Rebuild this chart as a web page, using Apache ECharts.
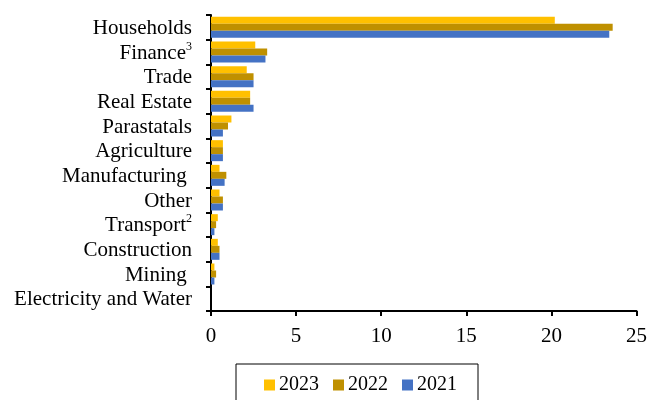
<!DOCTYPE html>
<html>
<head>
<meta charset="utf-8">
<style>
  html, body { margin: 0; padding: 0; background: #fff; }
  #chart { width: 650px; height: 400px; }
</style>
<script src="https://cdn.jsdelivr.net/npm/echarts@6/dist/echarts.min.js"></script>
</head>
<body>
<div id="chart"></div>
<script>
// Sectors, top to bottom (trailing "^n" marks a footnote superscript)
const sectors = [
  'Households', 'Finance^3', 'Trade', 'Real Estate', 'Parastatals', 'Agriculture',
  'Manufacturing ', 'Other', 'Transport^2', 'Construction', 'Mining ', 'Electricity and Water'
];
const values2023 = [20.2, 2.6, 2.1, 2.3, 1.2, 0.7, 0.5, 0.5, 0.4, 0.4, 0.2, 0.0];
const values2022 = [23.6, 3.3, 2.5, 2.3, 1.0, 0.7, 0.9, 0.7, 0.3, 0.5, 0.3, 0.0];
const values2021 = [23.4, 3.2, 2.5, 2.5, 0.7, 0.7, 0.8, 0.7, 0.2, 0.5, 0.2, 0.0];
const xTicks = [0, 5, 10, 15, 20, 25];

const FONT = 'Liberation Serif';
const chart = echarts.init(document.getElementById('chart'), null, { renderer: 'canvas' });

function sectorLabel(name) {
  const i = name.indexOf('^');
  if (i < 0) return '{n|' + name + '}';
  return '{n|' + name.slice(0, i) + '}{s|' + name.slice(i + 1) + '}';
}

chart.setOption({
  animation: false,
  backgroundColor: '#ffffff',
  textStyle: { fontFamily: FONT, color: '#000' },
  grid: { left: 211, right: 11, top: 15, bottom: 89, containLabel: false },
  legend: {
    data: ['2023', '2022', '2021'],
    left: 236,
    top: 364,
    orient: 'horizontal',
    itemWidth: 11,
    itemHeight: 11,
    itemGap: 14,
    icon: 'rect',
    padding: [11, 21, 30, 28],
    borderColor: '#000',
    borderWidth: 1,
    textStyle: { fontFamily: FONT, fontSize: 20, color: '#000', padding: [0, 0, 0, -1] }
  },
  xAxis: {
    type: 'value',
    min: xTicks[0],
    max: xTicks[xTicks.length - 1],
    interval: 5,
    splitLine: { show: false },
    axisLine: { show: true, lineStyle: { color: '#000', width: 2 } },
    axisTick: { show: true, length: 5, lineStyle: { color: '#000', width: 2 } },
    axisLabel: { fontFamily: FONT, fontSize: 21, color: '#000', margin: 15 }
  },
  yAxis: {
    type: 'category',
    data: sectors,
    inverse: true,
    axisLine: { show: true, lineStyle: { color: '#000', width: 2 } },
    axisTick: { show: true, length: 5, lineStyle: { color: '#000', width: 2 } },
    axisLabel: {
      interval: 0,
      margin: 19,
      formatter: sectorLabel,
      rich: {
        n: { fontFamily: FONT, fontSize: 21, color: '#000', padding: [2, 0, 0, 0] },
        s: { fontFamily: FONT, fontSize: 12, color: '#000', verticalAlign: 'top', padding: [0, 0, 8, 0] }
      }
    }
  },
  series: [
    { name: '2023', type: 'bar', data: values2023, itemStyle: { color: '#FFC000' },
      barWidth: 7, barGap: '0%', barCategoryGap: '15%' },
    { name: '2022', type: 'bar', data: values2022, itemStyle: { color: '#BF9000' },
      barWidth: 7, barGap: '0%' },
    { name: '2021', type: 'bar', data: values2021, itemStyle: { color: '#4472C4' },
      barWidth: 7, barGap: '0%' }
  ]
});
</script>
</body>
</html>
